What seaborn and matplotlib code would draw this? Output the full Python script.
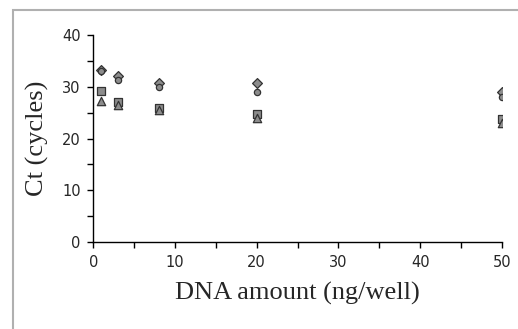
import numpy as np
import matplotlib
matplotlib.use('Agg')
import matplotlib.pyplot as plt
import matplotlib.patches as mpatches
from matplotlib.ticker import MultipleLocator
import seaborn as sns

dna_amount = [1, 3, 8, 20, 50]
ct_diamond = [33.2, 32.0, 30.8, 30.8, 29.0]
ct_circle = [33.0, 31.3, 30.0, 29.0, 28.0]
ct_square = [29.2, 27.0, 25.8, 24.8, 23.8]
ct_triangle = [27.3, 26.5, 25.5, 24.0, 23.0]

series = [
    (ct_diamond, 'D', 5),
    (ct_circle, 'o', 4.5),
    (ct_square, 's', 6),
    (ct_triangle, '^', 6),
]

sns.set_style('ticks')
fig = plt.figure(figsize=(5.18, 3.29), dpi=100)
ax = fig.add_axes([0.18, 0.264, 0.789, 0.63])

for vals, mk, ms in series:
    sns.scatterplot(x=dna_amount, y=vals, marker=mk, s=ms**2, color='#8c8c8c',
                    edgecolor='#333333', linewidth=0.9, ax=ax, zorder=3)

ax.set_xlim(0, 50)
ax.set_ylim(0, 40)
ax.xaxis.set_major_locator(MultipleLocator(10))
ax.xaxis.set_minor_locator(MultipleLocator(5))
ax.yaxis.set_major_locator(MultipleLocator(10))
ax.yaxis.set_minor_locator(MultipleLocator(5))
ax.tick_params(which='both', direction='out', length=4, width=1, color='black',
               labelsize=10.5, pad=5)
for lab in ax.get_xticklabels() + ax.get_yticklabels():
    lab.set_family('DejaVu Sans Condensed')
for s in ('top', 'right'):
    ax.spines[s].set_visible(False)
for s in ('left', 'bottom'):
    ax.spines[s].set_linewidth(1)
    ax.spines[s].set_color('black')

ax.set_xlabel('DNA amount (ng/well)', family='Liberation Serif', fontsize=19, labelpad=9)
ax.set_ylabel('Ct (cycles)', family='Liberation Serif', fontsize=19, labelpad=9)

fig.patches.append(mpatches.Rectangle((13 / 518, -0.1), 1.2, 1 - 10 / 329 + 0.1,
                                      transform=fig.transFigure, fill=False,
                                      edgecolor='#b0b0b0', linewidth=1.5))

fig.savefig('out.png', dpi=100)
